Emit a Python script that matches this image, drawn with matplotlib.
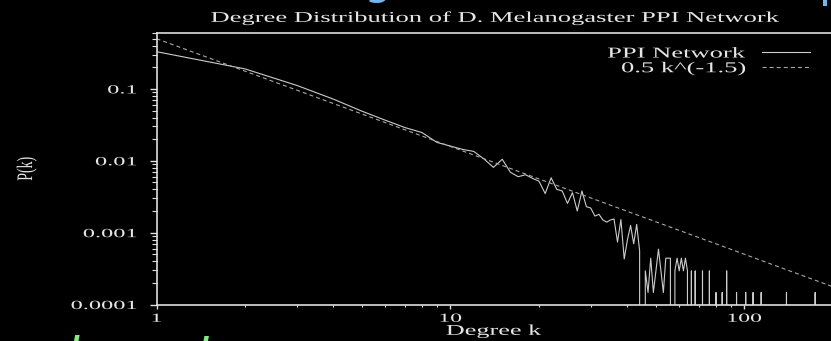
import numpy as np
import matplotlib
matplotlib.use('Agg')
import matplotlib.pyplot as plt
from matplotlib.patheffects import AbstractPathEffect
from matplotlib.transforms import Affine2D
from matplotlib.ticker import LogLocator, FuncFormatter, NullFormatter

# P(k), k = 1..44
head_pk = [0.33, 0.19, 0.112, 0.072, 0.049, 0.0367, 0.029, 0.0247, 0.018, 0.016,
           0.0144, 0.0135, 0.0106, 0.0081, 0.0105, 0.0069, 0.0060, 0.0064, 0.0057, 0.0052,
           0.0035, 0.0058, 0.0040, 0.0038, 0.00255, 0.0036, 0.0020, 0.0038, 0.0023, 0.0022,
           0.0017, 0.0018, 0.0015, 0.0014, 0.0015, 0.00155, 0.00074, 0.00152, 0.00043, 0.0008,
           0.00126, 0.0007, 0.0013, 0.00056]
# sparse tail: degree -> number of proteins (everything else is zero)
n_proteins = 6800
tail_k = [46, 47, 48, 49, 50, 51, 52, 53, 54, 55, 56, 58, 59, 60, 61, 62, 63, 64,
          66, 68, 72, 76, 80, 84, 87, 94, 101, 107, 114, 139, 174]
tail_count = [2, 1, 3, 1, 2, 4, 2, 1, 3, 3, 3, 2, 3, 2, 3, 2, 3, 2,
              2, 2, 2, 2, 1, 1, 2, 1, 1, 1, 1, 1, 1]
k_max = 200

# fitted power law shown as dashed line
fit_amp = 0.5
fit_exp = -1.5

fg = '#e6e6e6'
W, H = 831, 341


class Stretch(AbstractPathEffect):
    """widen text horizontally, the reference image is stretched"""
    def __init__(self, sx, anchor='center'):
        super().__init__()
        self.sx = sx
        self.anchor = anchor

    def draw_path(self, renderer, gc, tpath, affine, rgbFace=None):
        ext = tpath.get_extents(affine)
        cx = {'left': ext.x0, 'center': 0.5 * (ext.x0 + ext.x1), 'right': ext.x1}[self.anchor]
        wide = Affine2D().translate(-cx, 0).scale(self.sx, 1).translate(cx, 0)
        renderer.draw_path(gc, tpath, affine + wide, rgbFace)


plt.rcParams['font.family'] = ['Liberation Serif', 'DejaVu Serif']
plt.rcParams['lines.scale_dashes'] = False

degree = np.arange(1, k_max + 1)
pk = np.zeros(k_max)
pk[:len(head_pk)] = head_pk
for kk, c in zip(tail_k, tail_count):
    pk[kk - 1] = c / n_proteins

k_fit = np.logspace(0, np.log10(k_max), 300)
p_fit = fit_amp * k_fit ** fit_exp

fig = plt.figure(figsize=(W / 100, H / 100), dpi=100, facecolor='black')
ax = fig.add_axes([156.5 / W, 36.5 / H, (W - 156.5) / W, 271.5 / H], facecolor='black')

ax.plot(degree, pk, color='#cccccc', lw=0.8, label='PPI Network')
ax.plot(k_fit, p_fit, color='#a8a8a8', lw=0.8, dashes=(2.9, 2.2), label='0.5 k^(-1.5)')

ax.set_xscale('log')
ax.set_yscale('log')
ax.set_xlim(1, 197)
ax.set_ylim(1e-4, 0.6)

for s in ['left', 'bottom', 'top']:
    ax.spines[s].set_color('#dedede')
    ax.spines[s].set_linewidth(1.2)
ax.spines['right'].set_visible(False)

ax.xaxis.set_major_locator(LogLocator(base=10, numticks=10))
ax.xaxis.set_minor_locator(LogLocator(base=10, subs=np.arange(2, 10), numticks=50))
ax.yaxis.set_major_locator(LogLocator(base=10, numticks=10))
ax.yaxis.set_minor_locator(LogLocator(base=10, subs=np.arange(2, 10), numticks=50))
ax.xaxis.set_major_formatter(FuncFormatter(lambda v, p: f'{v:g}'))
ax.yaxis.set_major_formatter(FuncFormatter(lambda v, p: f'{v:g}'))
ax.xaxis.set_minor_formatter(NullFormatter())
ax.yaxis.set_minor_formatter(NullFormatter())

ax.tick_params(which='both', top=False, right=False, colors='#dedede', labelcolor=fg, direction='out')
ax.tick_params(axis='y', which='major', length=5, width=1, pad=9, labelsize=9)
ax.tick_params(axis='y', which='minor', length=3.5, width=0.8)
ax.tick_params(axis='x', which='major', length=3, width=1, pad=3, labelsize=9)
ax.tick_params(axis='x', which='minor', length=1.5, width=0.8)

for t in ax.yaxis.get_major_ticks():
    t.label1.set_path_effects([Stretch(1.95, 'right')])
for t in ax.xaxis.get_major_ticks():
    t.label1.set_path_effects([Stretch(1.9, 'center')])

xl = ax.set_xlabel('Degree k', color=fg, fontsize=10.8, labelpad=0)
xl.set_path_effects([Stretch(1.75, 'center')])
yl = ax.set_ylabel('P(k)', color=fg, fontsize=10)
ax.yaxis.set_label_coords((37 - 156.5) / (W - 156.5), 0.5)
yl.set_path_effects([Stretch(1.6, 'right')])

title = fig.text(495.5 / W, 1 - 18 / H, 'Degree Distribution of D. Melanogaster PPI Network',
                 color=fg, fontsize=10.8, ha='center', va='center')
title.set_path_effects([Stretch(1.77, 'center')])

leg = ax.legend(loc='upper right', bbox_to_anchor=(810 / W, 1 - 47 / H), bbox_transform=fig.transFigure,
                frameon=False, markerfirst=False, handlelength=3.2, handletextpad=1.1,
                labelspacing=0.08, borderpad=0, borderaxespad=0, fontsize=10.8, labelcolor=fg)
for t in leg.get_texts():
    t.set_path_effects([Stretch(1.77, 'right')])

# slide text cut off by the crop
fig.text(378 / W, 1 + 6 / H, 'g', color='#72b6f2', fontsize=32, family='DejaVu Sans',
         ha='center', va='baseline')
fig.text(819 / W, 1 + 3 / H, 'p', color='#72b6f2', fontsize=32, family='DejaVu Sans',
         ha='left', va='baseline')
fig.text(72 / W, 1 - 335 / H, 'l', color='#86e886', fontsize=36, family='DejaVu Sans',
         style='italic', ha='center', va='top')
fig.text(208 / W, 1 - 335 / H, 'd', color='#86e886', fontsize=36, family='DejaVu Sans',
         style='italic', ha='right', va='top')

fig.savefig('out.png', dpi=100, facecolor='black')
